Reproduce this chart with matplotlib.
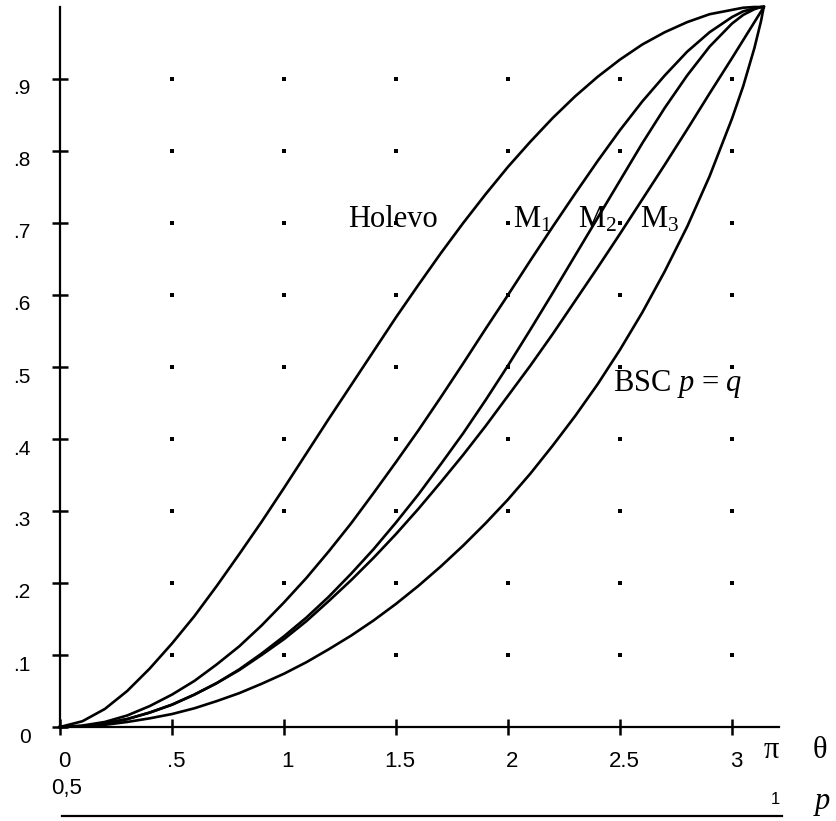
import matplotlib
matplotlib.use("Agg")
import matplotlib.pyplot as plt
import matplotlib.transforms as mtransforms

plt.rcParams['font.family'] = ['Liberation Sans', 'DejaVu Sans']
plt.rcParams['mathtext.fontset'] = 'custom'
plt.rcParams['mathtext.rm'] = 'Liberation Serif'
plt.rcParams['mathtext.it'] = 'Liberation Serif:italic'
serif = ['Liberation Serif', 'DejaVu Serif']

# 曲线数据 (theta 从 0 到 pi)
theta = [0.0, 0.1, 0.2, 0.3, 0.4, 0.5, 0.6, 0.7, 0.8, 0.9, 1.0, 1.1, 1.2, 1.3, 1.4, 1.5,
         1.6, 1.7, 1.8, 1.9, 2.0, 2.1, 2.2, 2.3, 2.4, 2.5, 2.6, 2.7, 2.8, 2.9, 3.0,
         3.05, 3.1, 3.13, 3.1416]
holevo = [0.0, 0.008, 0.025, 0.050, 0.081, 0.116, 0.154, 0.196, 0.240, 0.285, 0.332, 0.380,
          0.428, 0.475, 0.522, 0.569, 0.614, 0.658, 0.700, 0.740, 0.778, 0.813, 0.846, 0.876,
          0.903, 0.927, 0.948, 0.965, 0.979, 0.990, 0.996, 0.999, 1.0, 1.0, 1.0]
m1 = [0.0, 0.002, 0.007, 0.016, 0.029, 0.045, 0.064, 0.087, 0.112, 0.141, 0.173, 0.207,
      0.244, 0.283, 0.325, 0.368, 0.412, 0.458, 0.505, 0.553, 0.600, 0.648, 0.695, 0.741,
      0.786, 0.829, 0.869, 0.905, 0.938, 0.965, 0.986, 0.994, 0.998, 1.0, 1.0]
m2 = [0.0, 0.001, 0.005, 0.011, 0.020, 0.031, 0.045, 0.061, 0.080, 0.102, 0.126, 0.152,
      0.181, 0.213, 0.247, 0.284, 0.323, 0.365, 0.408, 0.454, 0.502, 0.552, 0.603, 0.655,
      0.707, 0.759, 0.811, 0.860, 0.905, 0.945, 0.977, 0.989, 0.997, 1.0, 1.0]
m3 = [0.0, 0.001, 0.005, 0.011, 0.020, 0.031, 0.045, 0.061, 0.079, 0.100, 0.122, 0.147,
      0.175, 0.204, 0.235, 0.268, 0.303, 0.340, 0.378, 0.418, 0.460, 0.502, 0.546, 0.592,
      0.638, 0.685, 0.733, 0.781, 0.830, 0.880, 0.929, 0.954, 0.979, 0.994, 1.0]
bsc = [0.0, 0.001, 0.003, 0.007, 0.012, 0.018, 0.026, 0.036, 0.047, 0.060, 0.074, 0.090,
       0.108, 0.127, 0.148, 0.171, 0.196, 0.223, 0.252, 0.283, 0.316, 0.352, 0.391, 0.432,
       0.476, 0.524, 0.576, 0.633, 0.695, 0.765, 0.845, 0.890, 0.943, 0.981, 1.0]

# 刻度
xticks = [0, 0.5, 1, 1.5, 2, 2.5, 3]
xticklabels = ['0', '.5', '1', '1.5', '2', '2.5', '3']
yticks = [0, 0.1, 0.2, 0.3, 0.4, 0.5, 0.6, 0.7, 0.8, 0.9]
yticklabels = ['0', '.1', '.2', '.3', '.4', '.5', '.6', '.7', '.8', '.9']

# 点状网格
grid_x = [0.5, 1, 1.5, 2, 2.5, 3]
grid_y = [0.1, 0.2, 0.3, 0.4, 0.5, 0.6, 0.7, 0.8, 0.9]

fig = plt.figure(figsize=(8.37, 8.21), dpi=100)
ax = fig.add_axes([60 / 837, 94 / 821, 719 / 837, 720 / 821])

for ys in [holevo, m1, m2, m3, bsc]:
    ax.plot(theta, ys, color='black', lw=1.9, solid_joinstyle='round', clip_on=False)

gx = [x for x in grid_x for y in grid_y]
gy = [y for x in grid_x for y in grid_y]
ax.plot(gx, gy, 's', color='black', ms=2.2, mew=0)

ax.set_xlim(0, 719 / 224)
ax.set_ylim(0, 1)
for s in ['top', 'right']:
    ax.spines[s].set_visible(False)
for s in ['left', 'bottom']:
    ax.spines[s].set_linewidth(1.6)

ax.set_xticks(xticks, xticklabels, fontsize=16)
ax.set_yticks(yticks, yticklabels, fontsize=15)
ax.tick_params(direction='inout', length=12, width=1.8)
ax.tick_params(axis='x', pad=11)
ax.tick_params(axis='y', pad=15)

for lbl in ax.get_yticklabels():
    lbl.set_transform(lbl.get_transform() + mtransforms.ScaledTranslation(0, -0.08, fig.dpi_scale_trans))
for lbl in ax.get_xticklabels():
    lbl.set_transform(lbl.get_transform() + mtransforms.ScaledTranslation(0.04, 0, fig.dpi_scale_trans))

# 曲线标注
ax.text(1.286, 0.694, 'Holevo', fontsize=22, family=serif, va='baseline')
ax.text(2.022, 0.694, r'M$_1$', fontsize=22, family=serif, va='baseline')
ax.text(2.3125, 0.694, r'M$_2$', fontsize=22, family=serif, va='baseline')
ax.text(2.589, 0.694, r'M$_3$', fontsize=22, family=serif, va='baseline')
ax.text(2.469, 0.467, r'BSC $p$ = $q$', fontsize=22, family=serif, va='baseline')

# 轴端标注
ax.text(3.174, -0.033, 'π', fontsize=22, family=serif, ha='center', va='center')
ax.text(3.393, -0.033, 'θ', fontsize=22, family=serif, ha='center', va='center')
ax.text(0.031, -0.086, '0,5', fontsize=16, ha='center', va='center')
ax.text(3.192, -0.100, '1', fontsize=12, ha='center', va='center')
ax.text(3.40, -0.114, '$p$', fontsize=22, ha='center', va='baseline')

# p 轴
pax = fig.add_axes([62 / 837, 5 / 821, 720 / 837, 0.0001])
pax.patch.set_visible(False)
for s in ['top', 'right', 'left']:
    pax.spines[s].set_visible(False)
pax.spines['bottom'].set_linewidth(1.6)
pax.set_xticks([])
pax.set_yticks([])

fig.savefig('out.png', dpi=100)
